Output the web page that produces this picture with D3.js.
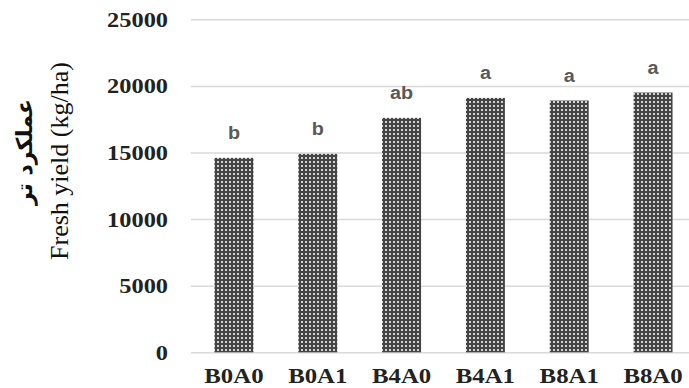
<!DOCTYPE html>
<html><head><meta charset="utf-8">
<script src="https://cdn.jsdelivr.net/npm/d3@7"></script>
<style>body{margin:0;background:#fff}svg{display:block}
.serif{font-family:'Liberation Serif','DejaVu Serif','Times New Roman',serif}
.sans{font-family:'Liberation Sans','Open Sans',Arial,sans-serif}
.fa{font-family:'DejaVu Sans','Noto Sans',sans-serif}
</style>
</head><body>
<svg id="c" width="689" height="388"></svg>
<script>
const categories = ["B0A0","B0A1","B4A0","B4A1","B8A1","B8A0"];
const values = [14600, 14900, 17600, 19100, 18900, 19500];
const letters = ["b","b","ab","a","a","a"];
const yTicks = [0,5000,10000,15000,20000,25000];
const yLabelEn = "Fresh yield (kg/ha)";
const yLabelFa = "عملکرد تر";

const svg = d3.select("#c");
const defs = svg.append("defs");
const pat = defs.append("pattern").attr("id","dots").attr("patternUnits","userSpaceOnUse")
  .attr("width",4).attr("height",4);
pat.append("rect").attr("width",4).attr("height",4).attr("fill","#444");
pat.append("rect").attr("x",1).attr("y",1).attr("width",2).attr("height",2).attr("fill","#d2d2d2");

const left = 191, right = 696, gridRight = 689;
const y = d3.scaleLinear().domain([0,25000]).range([352.3,19.3]);
const x = d3.scaleBand().domain(categories).range([left,right]).paddingInner(0.535).paddingOuter(0.28);

const stretch = (sel, f) => sel.each(function(){
  const L = this.getComputedTextLength();
  d3.select(this).attr("textLength", L*f).attr("lengthAdjust","spacingAndGlyphs");
});

// y axis with gridlines
const gy = svg.append("g").attr("transform",`translate(${left},0)`)
  .call(d3.axisLeft(y).tickValues(yTicks).tickFormat(d3.format("d"))
    .tickSizeInner(-(gridRight-left)).tickSizeOuter(0).tickPadding(23));
gy.attr("font-family",null);
gy.select(".domain").remove();
gy.selectAll(".tick line").attr("stroke","#d9d9d9").attr("stroke-width",1.5);
gy.selectAll(".tick text").attr("class","serif").attr("font-weight","bold")
  .attr("font-size",21).attr("fill","#222").attr("dy","0.33em").call(stretch,1.16);

// bars
svg.append("g").selectAll("rect").data(categories).join("rect")
  .attr("x",d=>x(d)).attr("width",x.bandwidth())
  .attr("y",(d,i)=>y(values[i])).attr("height",(d,i)=>y(0)-y(values[i]))
  .attr("fill","url(#dots)");

// letters
svg.append("g").selectAll("text").data(categories).join("text")
  .attr("class","sans")
  .attr("x",d=>x(d)+x.bandwidth()/2).attr("y",(d,i)=>y(values[i])-18.5)
  .attr("text-anchor","middle").attr("font-weight","bold")
  .attr("font-size",18).attr("fill","#595959").text((d,i)=>letters[i]).call(stretch,1.1);

// x labels
svg.append("g").selectAll("text").data(categories).join("text")
  .attr("class","serif")
  .attr("x",d=>x(d)+x.bandwidth()/2).attr("y",383)
  .attr("text-anchor","middle").attr("font-weight","bold")
  .attr("font-size",21).attr("fill","#222").text(d=>d).call(stretch,1.18);

// y labels
svg.append("text").attr("class","serif").attr("transform","translate(68,161) rotate(-90)")
  .attr("text-anchor","middle")
  .attr("font-size",26).attr("fill","#111").text(yLabelEn);
svg.append("text").attr("class","fa").attr("transform","translate(32,152) rotate(-90)")
  .attr("text-anchor","middle").attr("font-weight","bold")
  .attr("font-size",22).attr("fill","#111").attr("direction","rtl").text(yLabelFa);
</script>
</body></html>
